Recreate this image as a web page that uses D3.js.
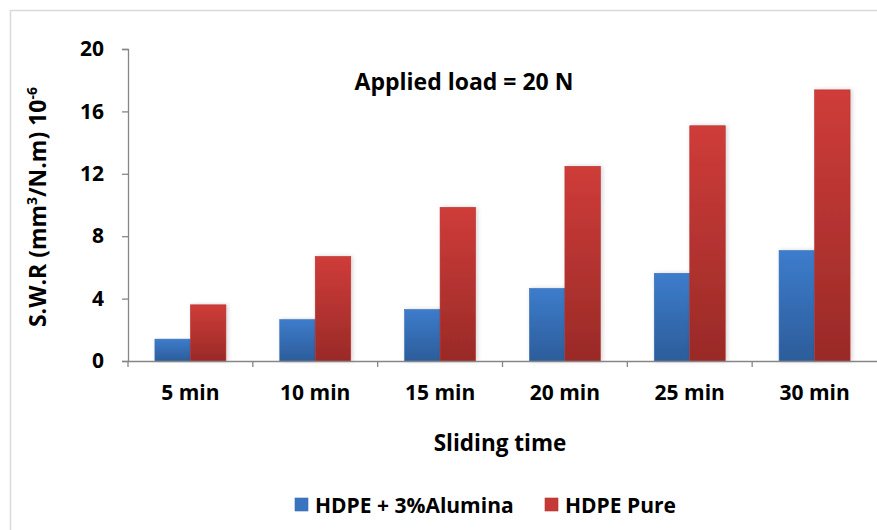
<!DOCTYPE html>
<html><head><meta charset="utf-8">
<script src="https://cdn.jsdelivr.net/npm/d3@7"></script>
<style>body{margin:0;background:#fff}svg{display:block;font-family:"Open Sans",sans-serif;font-weight:700}</style>
</head><body>
<svg id="c" width="877" height="530"></svg>
<script>
const categories = ["5 min","10 min","15 min","20 min","25 min","30 min"];
const seriesNames = ["HDPE + 3%Alumina","HDPE Pure"];
const alumina = [1.4, 2.65, 3.3, 4.65, 5.62, 7.08];
const pure = [3.6, 6.7, 9.85, 12.48, 15.08, 17.38];
const yTicks = [0,4,8,12,16,20];
const titleText = "Applied load = 20 N";
const xTitle = "Sliding time";

const FS = 21;
const FF = "Open Sans";
const svg = d3.select("#c");
const L = 128, R = 877, T = 49, B = 361;
svg.append("rect").attr("x",10.5).attr("y",10.5).attr("width",900).attr("height",600)
  .attr("fill","#fff").attr("stroke","#d9d9d9").attr("stroke-width",1.5);

const defs = svg.append("defs");
function grad(id, c1, c2){
  const g = defs.append("linearGradient").attr("id",id).attr("x1",0).attr("y1",0).attr("x2",0).attr("y2",1);
  g.append("stop").attr("offset","0%").attr("stop-color",c1);
  g.append("stop").attr("offset","100%").attr("stop-color",c2);
}
grad("gb","#3d7ccc","#2c5d9a");
grad("gr","#cf3c39","#992a27");
const fills = ["url(#gb)","url(#gr)"];
const strokes = ["#3a6fb3","#b83330"];
const legendFill = ["#3a74c0","#c33a37"];
const f = defs.append("filter").attr("id","sh").attr("x","-20%").attr("y","-5%").attr("width","140%").attr("height","110%");
f.append("feDropShadow").attr("dx",1.5).attr("dy",0).attr("stdDeviation",2).attr("flood-color","#000").attr("flood-opacity",0.18);

const x = d3.scaleBand().domain(categories).range([L,R]).padding(0);
const y = d3.scaleLinear().domain([0,20]).range([B,T]);
const barW = 35.5;
const xs = d3.scaleBand().domain(seriesNames).range([x.bandwidth()/2 - barW, x.bandwidth()/2 + barW]).padding(0);

const data = [alumina, pure];
seriesNames.forEach((s,si)=>{
  svg.append("g").selectAll("rect").data(categories).join("rect")
    .attr("x", c => x(c) + xs(s))
    .attr("width", xs.bandwidth())
    .attr("y", (c,i) => y(data[si][i]))
    .attr("height", (c,i) => y(0) - y(data[si][i]))
    .attr("fill", fills[si]).attr("stroke", strokes[si]).attr("stroke-width",0.6)
    .attr("filter","url(#sh)");
});

// y axis
const ya = svg.append("g").attr("transform",`translate(${L},0)`)
  .call(d3.axisLeft(y).tickValues(yTicks).tickSize(6).tickPadding(18).tickFormat(d3.format("d")));
ya.select(".domain").attr("stroke","#868686").attr("stroke-width",1.3);
ya.selectAll(".tick line").attr("stroke","#868686").attr("stroke-width",1.3);
ya.selectAll("text").attr("font-size",FS).attr("font-family",FF).attr("font-weight",700).attr("fill","#000");

// x axis
const xa = svg.append("g").attr("transform",`translate(0,${B})`)
  .call(d3.axisBottom(x).tickSize(0).tickPadding(24));
xa.select(".domain").attr("stroke","#868686").attr("stroke-width",1.3);
xa.selectAll("text").attr("font-size",FS).attr("font-family",FF).attr("font-weight",700).attr("fill","#000");
svg.append("g").selectAll("line").data(categories).join("line")
  .attr("x1", c => x(c)).attr("x2", c => x(c))
  .attr("y1", B).attr("y2", B+6).attr("stroke","#868686").attr("stroke-width",1.3);

// titles
svg.append("text").attr("x",464).attr("y",90).attr("text-anchor","middle")
  .attr("font-size",23).attr("fill","#000").text(titleText);
svg.append("text").attr("x",500).attr("y",451).attr("text-anchor","middle")
  .attr("font-size",22.5).attr("fill","#000").text(xTitle);
const yt = svg.append("text").attr("transform","translate(46,207) rotate(-90)").attr("text-anchor","middle")
  .attr("font-size",23).attr("fill","#000");
yt.append("tspan").text("S.W.R (mm");
yt.append("tspan").attr("font-size",14).attr("dy",-9).text("3");
yt.append("tspan").attr("dy",9).text("/N.m) 10");
yt.append("tspan").attr("font-size",14).attr("dy",-9).text("-6");

// legend
const lg = svg.append("g");
const lx = [295, 545];
seriesNames.forEach((s,i)=>{
  lg.append("rect").attr("x",lx[i]).attr("y",498).attr("width",13).attr("height",13)
    .attr("fill",legendFill[i]).attr("stroke",strokes[i]).attr("stroke-width",0.6);
  lg.append("text").attr("x",lx[i]+20).attr("y",512.5).attr("font-size",FS).attr("fill","#000").text(s);
});
</script>
</body></html>
